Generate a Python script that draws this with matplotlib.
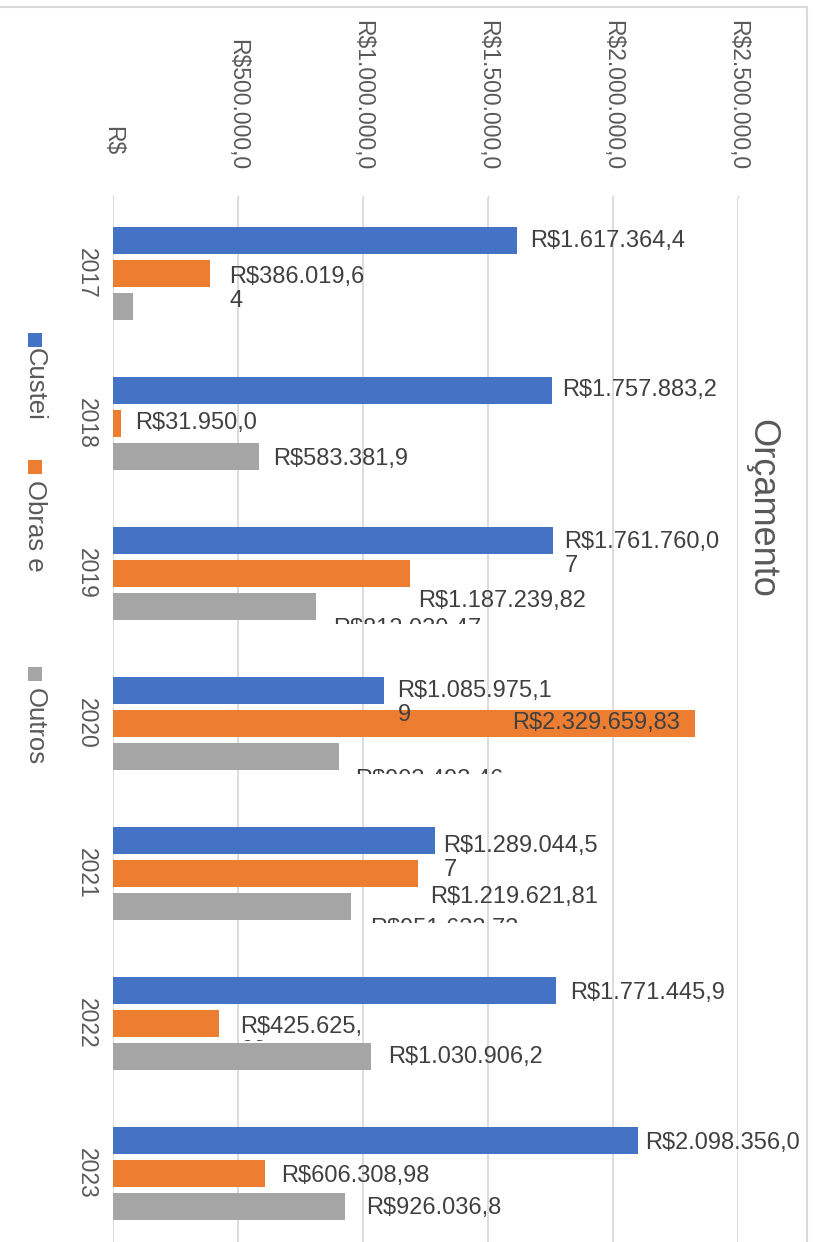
import matplotlib
matplotlib.use("Agg")
import matplotlib.pyplot as plt
import matplotlib.transforms as mtransforms
from matplotlib.patches import Rectangle
from matplotlib.lines import Line2D
import numpy as np

# ---------------- data ----------------
years = ['2017', '2018', '2019', '2020', '2021', '2022', '2023']
series_names = ['Custei', 'Obras e', 'Outros']
custei = [1617364.40, 1757883.20, 1761760.07, 1085975.19, 1289044.57, 1771445.90, 2098356.00]
obras = [386019.64, 31950.00, 1187239.82, 2329659.83, 1219621.81, 425625.00, 606308.98]
outros = [79600.00, 583381.90, 812030.47, 903493.46, 951633.73, 1030906.20, 926036.80]

# data labels as displayed (truncated by the chart's label boxes)
custei_labels = ['R$1.617.364,4', 'R$1.757.883,2', 'R$1.761.760,0\n7', 'R$1.085.975,1\n9',
                 'R$1.289.044,5\n7', 'R$1.771.445,9', 'R$2.098.356,0']
obras_labels = ['R$386.019,6\n4', 'R$31.950,0', 'R$1.187.239,82', 'R$2.329.659,83',
                'R$1.219.621,81', 'R$425.625,\n00', 'R$606.308,98']
outros_labels = ['', 'R$583.381,9', 'R$812.030,47', 'R$903.493,46', 'R$951.633,73',
                 'R$1.030.906,2', 'R$926.036,8']

xticks = [0, 500000, 1000000, 1500000, 2000000, 2500000]
xtick_labels = ['R$', 'R$500.000,0', 'R$1.000.000,0', 'R$1.500.000,0', 'R$2.000.000,0', 'R$2.500.000,0']
title = 'Orçamento'

# ---------------- style / layout ----------------
W, H = 816, 1242
colors = ['#4472C4', '#ED7D31', '#A5A5A5']
grid_c = '#D9D9D9'
txt_c = '#595959'
lab_c = '#404040'
FONT = ['Liberation Sans', 'DejaVu Sans']
plt.rcParams['font.family'] = FONT

# label layout: (dx px from bar end, dy px from bar centre, clip y px or None, inside)
custei_lay = [(13, 1, None, False), (10, 0, None, False), (11, 2, None, False), (13, 1, None, False),
              (8, 6, None, False), (14, 3, None, False), (8, 3, None, False)]
obras_lay = [(20, 4, None, False), (14, 0, None, False), (8, 28, None, False), (-15, 0, None, True),
             (12, 24, None, False), (21, 4, 1041, False), (17, 3, None, False)]
outros_lay = [(0, 0, None, False), (14, 3, None, False), (17, 23, 624, False), (16, 24, 774, False),
              (19, 23, 923, False), (17, 1, None, False), (22, 2, None, False)]

fig = plt.figure(figsize=(W / 100, H / 100), dpi=100)
fig.patch.set_facecolor('white')

def fx(px):
    return px / W

def fy(py):
    return 1 - py / H

ax_left, ax_right, ax_top, ax_bot = 113, 738, 198, 1248
ax = fig.add_axes([fx(ax_left), fy(ax_bot), (ax_right - ax_left) / W, (ax_bot - ax_top) / H])
ax.set_facecolor('none')

y = np.arange(len(years))
bar_h = 0.18
offs = [-0.22, 0.0, 0.22]
all_vals = [custei, obras, outros]
all_labels = [custei_labels, obras_labels, outros_labels]
all_lay = [custei_lay, obras_lay, outros_lay]

for vals, off, c in zip(all_vals, offs, colors):
    ax.barh(y + off, vals, height=bar_h, color=c, zorder=2)

ax.set_xlim(0, 2500000)
ax.set_ylim(len(years) - 0.5, -0.5)
for s in ax.spines.values():
    s.set_visible(False)
ax.set_xticks(xticks)
ax.xaxis.tick_top()
ax.tick_params(axis='x', length=2, width=1, color=grid_c, labeltop=False, labelbottom=False)
ax.grid(axis='x', color=grid_c, linewidth=1.3, zorder=0)
ax.set_axisbelow(True)

ax.set_yticks(y)
ax.set_yticklabels(years, rotation=-90, va='center', ha='right', fontsize=16.5, color=txt_c)
ax.tick_params(axis='y', length=0, pad=11)

# x tick labels (rotated, above the plot)
xtr = mtransforms.blended_transform_factory(ax.transData, ax.transAxes)
for v, lab in zip(xticks, xtick_labels):
    extra = 15 if lab == 'R$' else 0
    tr = mtransforms.offset_copy(xtr, fig=fig, x=0, y=28 + extra, units='dots')
    ax.text(v, 1.0, lab, transform=tr, rotation=-90, ha='center', va='bottom',
            fontsize=16.5, color=txt_c, clip_on=False)

# data labels
line_gap = 24
for vals, labels, lay, off in zip(all_vals, all_labels, all_lay, offs):
    for i in range(len(vals)):
        lab = labels[i]
        if not lab:
            continue
        dx, dy, clip_y, inside = lay[i]
        for j, line in enumerate(lab.split('\n')):
            tr = mtransforms.offset_copy(ax.transData, fig=fig, x=dx, y=-(dy + j * line_gap), units='dots')
            t = ax.text(vals[i], y[i] + off, line, transform=tr,
                        ha='right' if inside else 'left', va='center',
                        fontsize=17, color=lab_c, zorder=5)
            if clip_y is not None:
                cb = mtransforms.TransformedBbox(
                    mtransforms.Bbox([[0, fy(clip_y)], [1, 1]]), fig.transFigure)
                t.set_clip_box(cb)
                t.set_clip_on(True)
            else:
                t.set_clip_on(False)

# title
fig.text(fx(762), fy(508), title, rotation=-90, ha='center', va='center',
         fontsize=26, color=txt_c)

# legend (rotated, drawn at left)
leg_marker_y = [333, 460, 667]
leg_text_y = [348, 480, 688]
for name, c, my, ty in zip(series_names, colors, leg_marker_y, leg_text_y):
    fig.patches.append(Rectangle((fx(28), fy(my + 14)), 14 / W, 14 / H,
                                 transform=fig.transFigure, facecolor=c, edgecolor='none'))
    fig.text(fx(35), fy(ty), name, rotation=-90, ha='center', va='top',
             fontsize=18.5, color=txt_c)

# chart border
fig.lines.append(Line2D([0, fx(807)], [fy(7), fy(7)], transform=fig.transFigure,
                        color=grid_c, linewidth=1.5))
fig.lines.append(Line2D([fx(807), fx(807)], [fy(7), 0], transform=fig.transFigure,
                        color=grid_c, linewidth=1.5))

fig.savefig('out.png', dpi=100, facecolor='white')
